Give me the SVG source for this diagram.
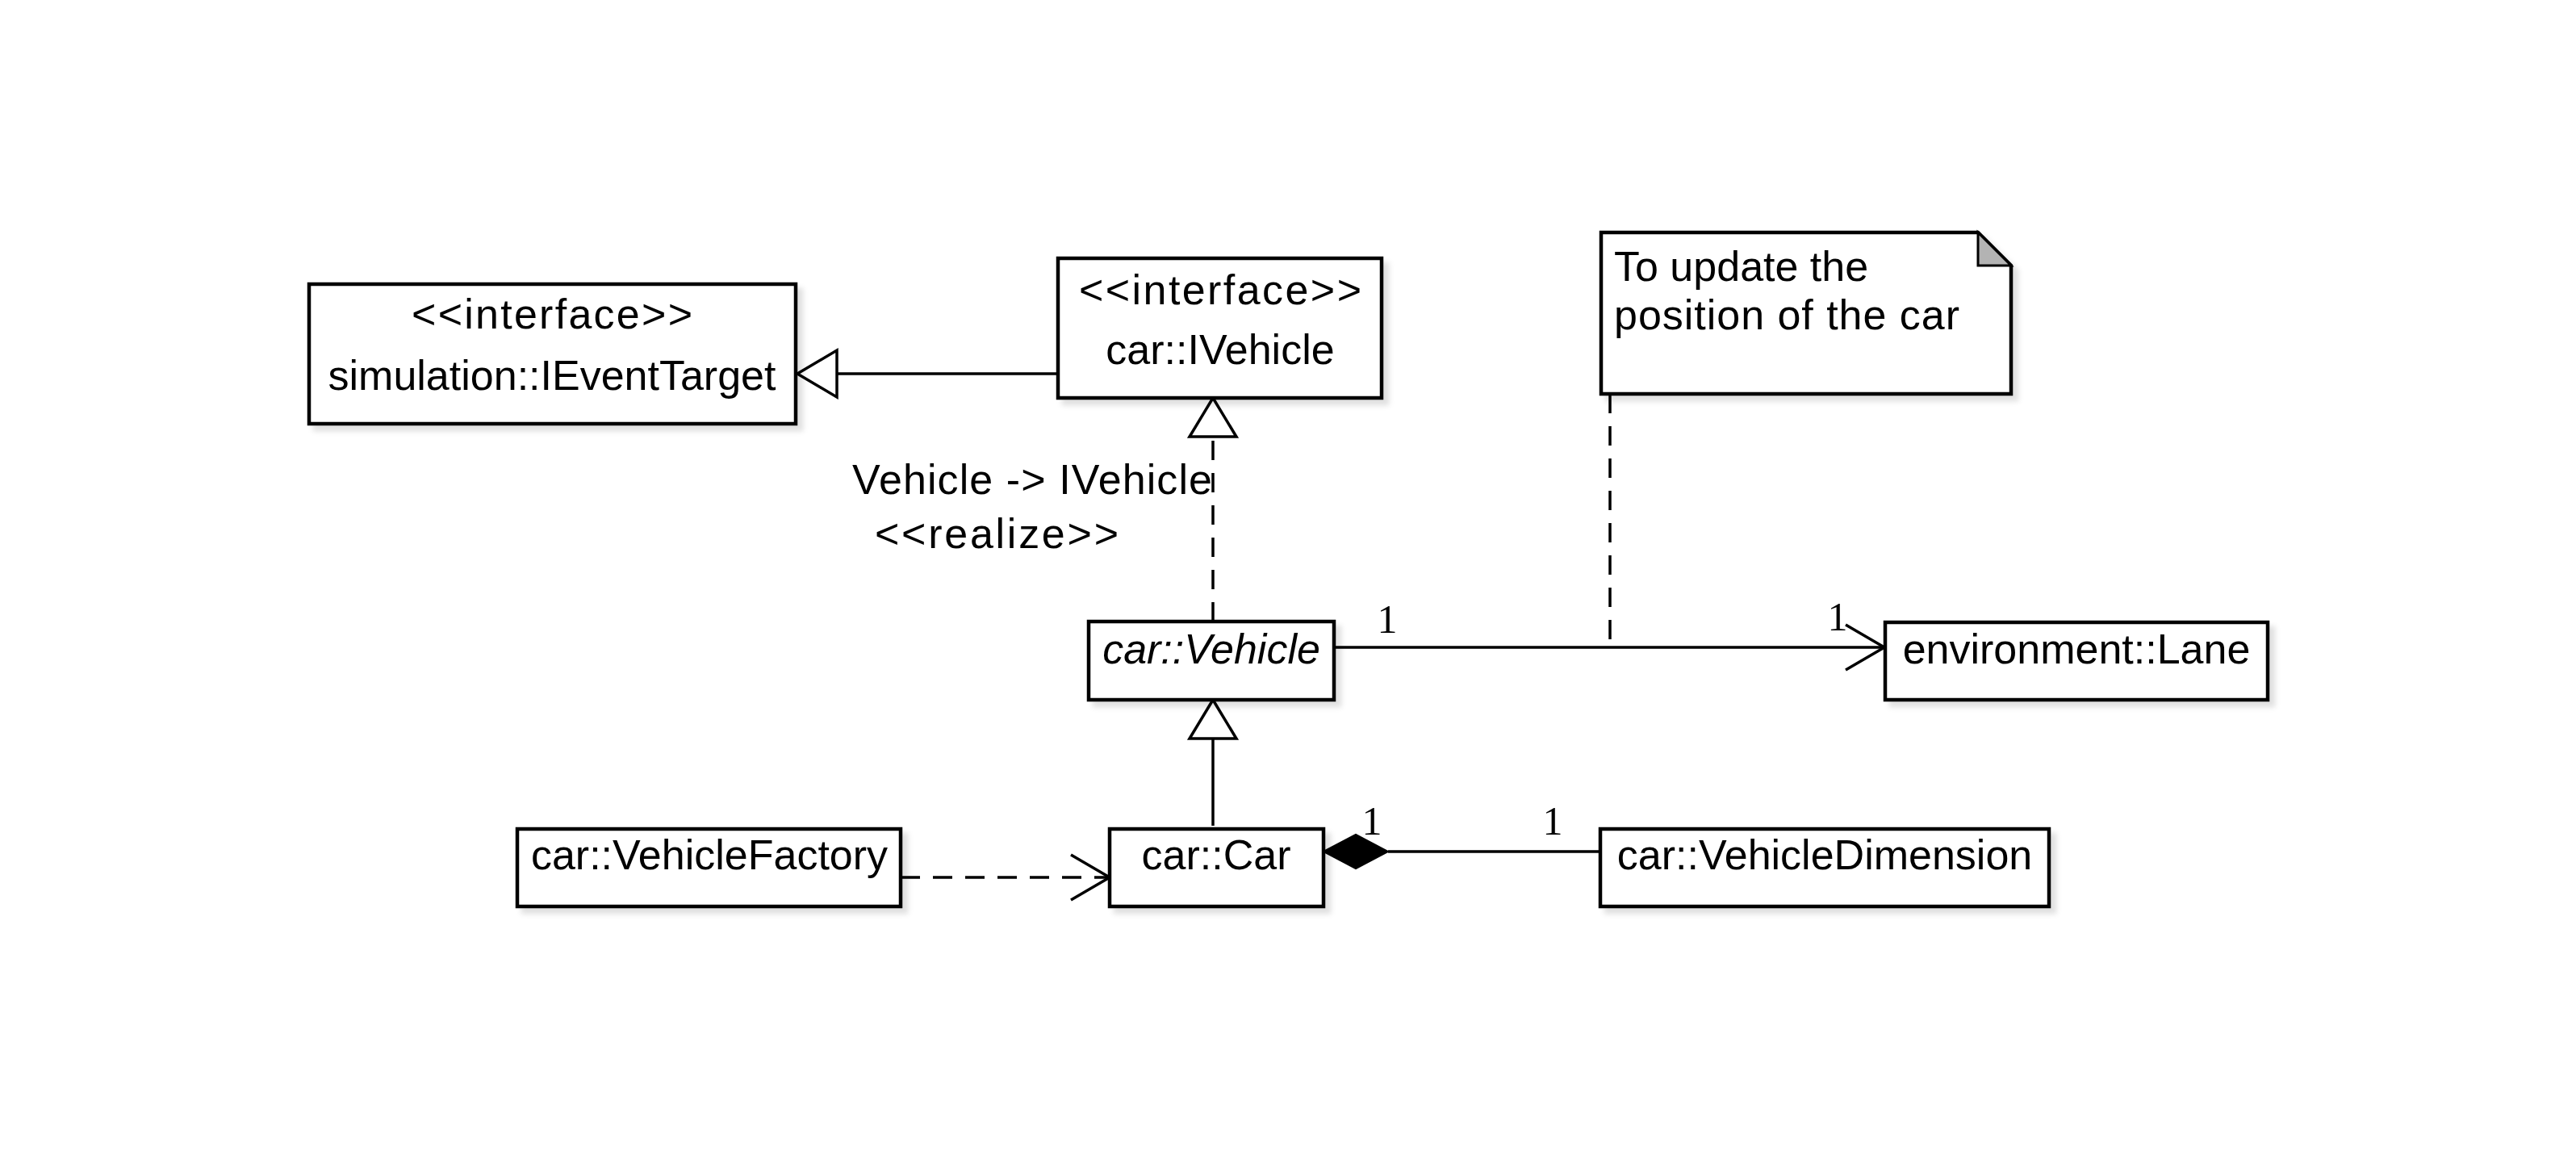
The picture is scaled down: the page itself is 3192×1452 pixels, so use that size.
<svg xmlns="http://www.w3.org/2000/svg" width="3192" height="1452" viewBox="0 0 3192 1452">
<style>
.box{fill:#fff;stroke:#000;stroke-width:4.5}
.t{font-family:"Liberation Sans",Arial,sans-serif;font-size:52px;fill:#000}
.m{text-anchor:middle}
.num{font-family:"Liberation Serif","Times New Roman",serif;font-size:50px;fill:#000;text-anchor:middle}
.ln{fill:none;stroke:#000;stroke-width:3.5}
.dash{stroke-dasharray:24 16}
.head{fill:#fff;stroke:#000;stroke-width:3.5;stroke-linejoin:miter}
.open{fill:none;stroke:#000;stroke-width:3.5}
</style>
<defs>
<filter id="sh" x="-10%" y="-10%" width="130%" height="140%">
<feDropShadow dx="7" dy="7" stdDeviation="3" flood-color="#000" flood-opacity="0.12"/>
</filter>
</defs>
<rect width="3192" height="1452" fill="#fff"/>
<g id="connectors">
<g id="gen-ivehicle-ieventtarget">
<line class="ln" x1="1311" y1="463" x2="1037" y2="463"/>
<polygon class="head" points="988,463 1037,434 1037,492"/>
</g>
<g id="realize-vehicle-ivehicle">
<line class="ln dash" x1="1503" y1="770" x2="1503" y2="541"/>
<polygon class="head" points="1503,493 1474,541 1532,541"/>
<text class="t" x="1056" y="612" textLength="446" lengthAdjust="spacing">Vehicle -&gt; IVehicle</text>
<text class="t" x="1084" y="679" textLength="302" lengthAdjust="spacing">&lt;&lt;realize&gt;&gt;</text>
</g>
<g id="gen-car-vehicle">
<line class="ln" x1="1503" y1="1023" x2="1503" y2="915"/>
<polygon class="head" points="1503,867 1474,915 1532,915"/>
</g>
<g id="assoc-vehicle-lane">
<line class="ln" x1="1653" y1="802" x2="2335" y2="802"/>
<polyline class="open" points="2287,774 2335,802 2287,830"/>
<text class="num" x="1719" y="784">1</text>
<text class="num" x="2277" y="781">1</text>
</g>
<g id="dep-factory-car">
<line class="ln dash" x1="1116" y1="1087" x2="1373" y2="1087"/>
<polyline class="open" points="1327,1059 1375,1087 1327,1115"/>
</g>
<g id="comp-car-dimension">
<line class="ln" x1="1720" y1="1055" x2="1983" y2="1055"/>
<polygon points="1640,1055 1680,1034 1720,1055 1680,1076" fill="#000" stroke="#000" stroke-width="2"/>
<text class="num" x="1700" y="1034">1</text>
<text class="num" x="1924" y="1034">1</text>
</g>
<g id="note-anchor">
<line class="ln dash" x1="1995" y1="488" x2="1995" y2="802"/>
</g>
</g>
<g id="ieventtarget" filter="url(#sh)">
<rect class="box" x="383" y="352" width="603" height="173"/>
<text class="t m" x="684" y="407" textLength="348" lengthAdjust="spacing">&lt;&lt;interface&gt;&gt;</text>
<text class="t m" x="684" y="483">simulation::IEventTarget</text>
</g>
<g id="ivehicle" filter="url(#sh)">
<rect class="box" x="1311" y="320" width="401" height="173"/>
<text class="t m" x="1512" y="377" textLength="350" lengthAdjust="spacing">&lt;&lt;interface&gt;&gt;</text>
<text class="t m" x="1512" y="451">car::IVehicle</text>
</g>
<g id="vehicle" filter="url(#sh)">
<rect class="box" x="1349" y="770" width="304" height="97"/>
<text class="t m" x="1501" y="822" font-style="italic">car::Vehicle</text>
</g>
<g id="lane" filter="url(#sh)">
<rect class="box" x="2336" y="771" width="474" height="96"/>
<text class="t m" x="2573" y="822">environment::Lane</text>
</g>
<g id="note" filter="url(#sh)">
<path class="box" d="M1984,288 H2451 L2492,329 V488 H1984 Z"/>
<path d="M2451,288 L2492,329 H2451 Z" fill="#b3b3b3" stroke="#000" stroke-width="3"/>
<text class="t" x="2000" y="348">To update the</text>
<text class="t" x="2000" y="408" textLength="428" lengthAdjust="spacing">position of the car</text>
</g>
<g id="vehiclefactory" filter="url(#sh)">
<rect class="box" x="641" y="1027" width="475" height="96"/>
<text class="t m" x="879" y="1077">car::VehicleFactory</text>
</g>
<g id="car" filter="url(#sh)">
<rect class="box" x="1375" y="1027" width="265" height="96"/>
<text class="t m" x="1507" y="1077">car::Car</text>
</g>
<g id="vehicledimension" filter="url(#sh)">
<rect class="box" x="1983" y="1027" width="556" height="96"/>
<text class="t m" x="2261" y="1077">car::VehicleDimension</text>
</g>
</svg>
